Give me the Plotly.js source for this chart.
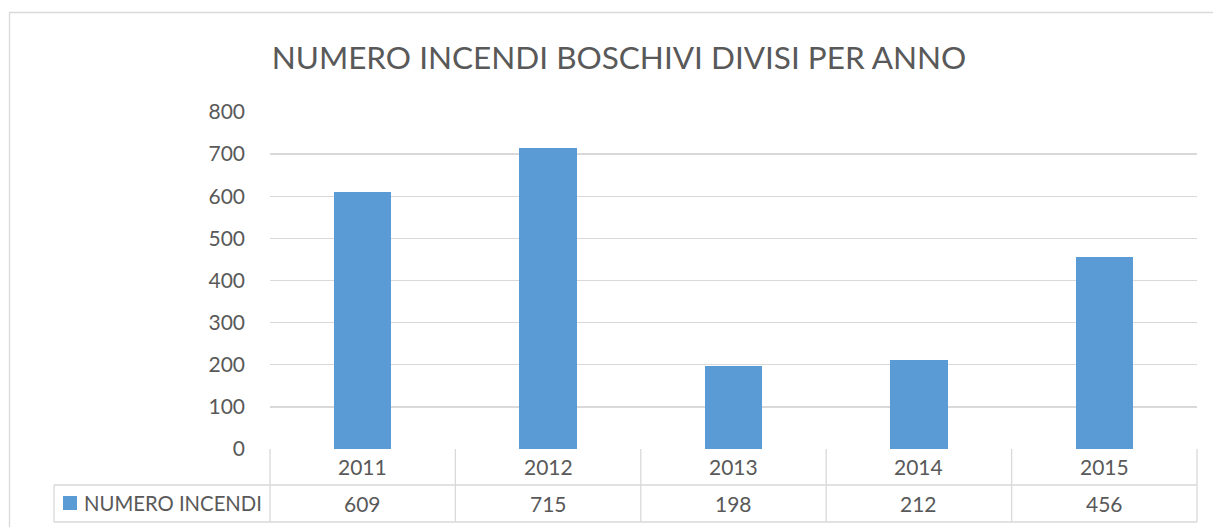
<!DOCTYPE html>
<html><head><meta charset="utf-8">
<script src="https://cdn.plot.ly/plotly-3.0.1.min.js"></script>
<style>html,body{margin:0;padding:0;background:#fff;}#chart{width:1213px;height:527px;}</style>
</head><body><div id="chart"></div>
<script>
var years = ['2011','2012','2013','2014','2015'];
var incendi = [609, 715, 198, 212, 456];
var seriesName = 'NUMERO INCENDI';
var yTicks = [0,100,200,300,400,500,600,700,800];
var titleText = 'NUMERO INCENDI BOSCHIVI DIVISI PER ANNO';

var W = 1213, H = 527;
var L = 270, R = 1197, T = 112, B = 449;
var pw = R - L, ph = B - T;
function px(x){ return (x - L) / pw; }
function py(y){ return (B - y) / ph; }
var grid = '#d9d9d9', txt = '#595959', font = 'Lato, "Open Sans", sans-serif';
var fs = 21;

var shapes = [];
// outer frame
shapes.push({type:'rect', xref:'paper', yref:'paper', x0:px(9.5), x1:px(1230), y0:py(540), y1:py(12.5), line:{color:grid,width:1.3}, layer:'below'});
// table lines
shapes.push({type:'line', xref:'paper', yref:'paper', x0:px(54), x1:1, y0:py(485), y1:py(485), line:{color:grid,width:1.3}});
shapes.push({type:'line', xref:'paper', yref:'paper', x0:px(54), x1:1, y0:py(522), y1:py(522), line:{color:grid,width:1.3}});
shapes.push({type:'line', xref:'paper', yref:'paper', x0:px(54), x1:px(54), y0:py(485), y1:py(522), line:{color:grid,width:1.3}});
for (var i = 0; i <= years.length; i++) {
  shapes.push({type:'line', xref:'paper', yref:'paper', x0:i/years.length, x1:i/years.length, y0:0, y1:py(522), line:{color:grid,width:1.3}});
}
// legend key
shapes.push({type:'rect', xref:'paper', yref:'paper', x0:px(63), x1:px(77), y0:py(510), y1:py(496), fillcolor:'#5B9BD5', line:{width:0}});

var annotations = [];
years.forEach(function(yr, i){
  var cx = (i + 0.5) / years.length;
  annotations.push({x:cx, xref:'paper', y:py(466), yref:'paper', text:yr, showarrow:false, font:{family:font,size:fs,color:txt}, xanchor:'center', yanchor:'middle'});
  annotations.push({x:cx, xref:'paper', y:py(503), yref:'paper', text:String(incendi[i]), showarrow:false, font:{family:font,size:fs,color:txt}, xanchor:'center', yanchor:'middle'});
});
annotations.push({x:px(82), xref:'paper', y:py(503), yref:'paper', text:seriesName, showarrow:false, font:{family:font,size:20.3,color:txt}, xanchor:'left', yanchor:'middle'});

var data = [{
  type:'bar', x:years, y:incendi, name:seriesName,
  marker:{color:'#5B9BD5'}, width:0.31, hoverinfo:'x+y'
}];

var layout = {
  width:W, height:H,
  margin:{l:L, r:W-R, t:T, b:H-B, pad:0},
  paper_bgcolor:'#fff', plot_bgcolor:'#fff',
  showlegend:false,
  title:{text:titleText, xref:'container', x:619/W, xanchor:'center', yref:'container', y:1-58/H, yanchor:'middle', font:{family:font,size:31.5,color:txt}},
  xaxis:{type:'category', range:[-0.5,4.5], showticklabels:false, showgrid:false, zeroline:false, showline:false, ticks:''},
  yaxis:{range:[0,800], tickvals:yTicks, showgrid:true, gridcolor:grid, gridwidth:1.3, zeroline:false, showline:false, ticks:'', ticklabelstandoff:24,
         tickfont:{family:font,size:fs,color:txt}, automargin:false},
  shapes:shapes, annotations:annotations, bargap:0
};
Plotly.newPlot('chart', data, layout, {staticPlot:true});
</script></body></html>
